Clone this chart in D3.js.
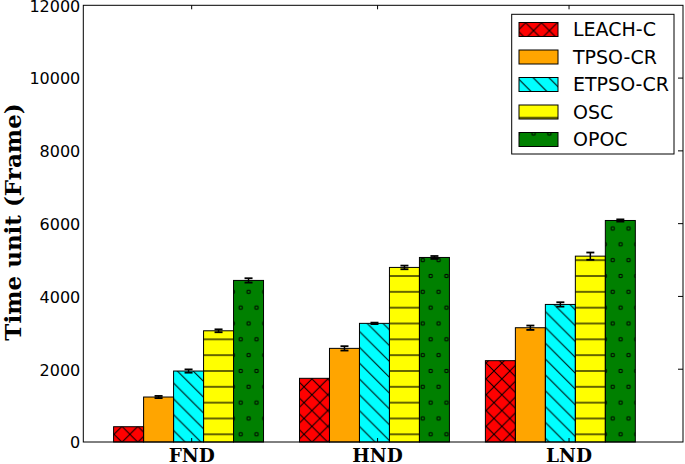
<!DOCTYPE html>
<html lang="en">
<head>
  <meta charset="UTF-8">
  <title>Time unit per round metric</title>
  <script src="https://d3js.org/d3.v7.min.js"></script>
  <style>
    body {
      margin: 0;
      background: #fff;
    }
    .tick-label {
      font-family: "DejaVu Sans", sans-serif;
      font-size: 16px;
      fill: #000;
    }
    .axis-title {
      font-family: "DejaVu Serif", serif;
      font-weight: bold;
      fill: #000;
    }
    .legend-label {
      font-family: "DejaVu Sans", sans-serif;
      font-size: 19px;
      fill: #000;
    }
  </style>
</head>
<body>
  <svg width="685" height="464"></svg>

  <script>
    const groups = ["FND", "HND", "LND"];
    const groupTicks = [0.42, 1.42, 2.45];
    const seriesNames = ["LEACH-C", "TPSO-CR", "ETPSO-CR", "OSC", "OPOC"];
    const colors = ["#ff0000", "#ffa500", "#00ffff", "#ffff00", "#008000"];
    const hatches = ["cross", "", "diag", "hline", "circle"];

    const leachC = [420, 1750, 2235];
    const tpsoCR = [1236, 2573, 3140];
    const etpsoCR = [1950, 3260, 3780];
    const osc = [3056, 4797, 5107];
    const opoc = [4440, 5071, 6087];

    const leachCErr = [0, 0, 0];
    const tpsoCRErr = [30, 60, 60];
    const etpsoCRErr = [45, 20, 60];
    const oscErr = [40, 50, 100];
    const opocErr = [60, 40, 30];

    const yTicks = [0, 2000, 4000, 6000, 8000, 10000, 12000];

    const values = [leachC, tpsoCR, etpsoCR, osc, opoc];
    const errors = [leachCErr, tpsoCRErr, etpsoCRErr, oscErr, opocErr];

    const plot = { left: 83.3, right: 683, top: 5.3, bottom: 442 };
    const barW = 0.1613;
    const T = 15.83; // hatch spacing

    const svg = d3.select("svg");

    const x = d3.scaleLinear()
      .domain([-0.163, 3.063])
      .range([plot.left, plot.right]);

    const y = d3.scaleLinear()
      .domain([0, 12000])
      .range([plot.bottom, plot.top]);

    // Hatch patterns
    const defs = svg.append("defs");

    const px = defs.append("pattern")
      .attr("id", "hatch-cross")
      .attr("patternUnits", "userSpaceOnUse")
      .attr("x", 3.25).attr("y", 6.9)
      .attr("width", T).attr("height", T);
    px.append("path")
      .attr("d", `M-1,-1L${T + 1},${T + 1}M-1,${T + 1}L${T + 1},-1`)
      .attr("stroke", "#000").attr("stroke-width", 1).attr("fill", "none");

    const pd = defs.append("pattern")
      .attr("id", "hatch-diag")
      .attr("patternUnits", "userSpaceOnUse")
      .attr("x", 3.25).attr("y", 6.9)
      .attr("width", T).attr("height", T);
    pd.append("path")
      .attr("d", `M-1,-1L${T + 1},${T + 1}M-2,${T - 2}L2,${T + 2}M${T - 2},-2L${T + 2},2`)
      .attr("stroke", "#000").attr("stroke-width", 1).attr("fill", "none");

    const ph = defs.append("pattern")
      .attr("id", "hatch-hline")
      .attr("patternUnits", "userSpaceOnUse")
      .attr("x", 0).attr("y", 6.9 - T / 2)
      .attr("width", T).attr("height", T);
    ph.append("line")
      .attr("x1", -1).attr("x2", T + 1)
      .attr("y1", T / 2).attr("y2", T / 2)
      .attr("stroke", "#000").attr("stroke-width", 1.2);

    const po = defs.append("pattern")
      .attr("id", "hatch-circle")
      .attr("patternUnits", "userSpaceOnUse")
      .attr("x", 3.25).attr("y", 22.7)
      .attr("width", T).attr("height", 2 * T);
    [[0, 0], [T, 0], [0, 2 * T], [T, 2 * T], [T / 2, T]].forEach(([cx, cy]) => {
      po.append("circle")
        .attr("cx", cx).attr("cy", cy).attr("r", 1.8)
        .attr("fill", "none").attr("stroke", "#000").attr("stroke-width", 1);
    });

    // Bars
    const barData = [];
    values.forEach((vals, s) => {
      vals.forEach((v, g) => {
        barData.push({ s, g, v, err: errors[s][g] });
      });
    });

    const bx = d => x(d.g + d.s * barW);
    const bw = d => x(d.g + (d.s + 1) * barW) - x(d.g + d.s * barW);

    const bars = svg.append("g");
    bars.selectAll(".bar")
      .data(barData)
      .join("rect")
      .attr("class", "bar")
      .attr("x", bx)
      .attr("y", d => y(d.v))
      .attr("width", bw)
      .attr("height", d => y(0) - y(d.v))
      .attr("fill", d => colors[d.s]);

    bars.selectAll(".hatch")
      .data(barData.filter(d => hatches[d.s]))
      .join("rect")
      .attr("class", "hatch")
      .attr("x", bx)
      .attr("y", d => y(d.v))
      .attr("width", bw)
      .attr("height", d => y(0) - y(d.v))
      .attr("fill", d => `url(#hatch-${hatches[d.s]})`);

    bars.selectAll(".edge")
      .data(barData)
      .join("rect")
      .attr("class", "edge")
      .attr("x", bx)
      .attr("y", d => y(d.v))
      .attr("width", bw)
      .attr("height", d => y(0) - y(d.v))
      .attr("fill", "none")
      .attr("stroke", "#000")
      .attr("stroke-width", 1);

    // Error bars
    const errG = svg.append("g");
    const withErr = barData.filter(d => d.err > 0);
    const cx = d => x(d.g + (d.s + 0.5) * barW);
    errG.selectAll(".err")
      .data(withErr)
      .join("line")
      .attr("x1", cx).attr("x2", cx)
      .attr("y1", d => y(d.v - d.err)).attr("y2", d => y(d.v + d.err))
      .attr("stroke", "#000").attr("stroke-width", 1.5);
    errG.selectAll(".capTop")
      .data(withErr)
      .join("line")
      .attr("x1", d => cx(d) - 4).attr("x2", d => cx(d) + 4)
      .attr("y1", d => y(d.v + d.err)).attr("y2", d => y(d.v + d.err))
      .attr("stroke", "#000").attr("stroke-width", 1.8);
    errG.selectAll(".capBot")
      .data(withErr)
      .join("line")
      .attr("x1", d => cx(d) - 4).attr("x2", d => cx(d) + 4)
      .attr("y1", d => y(d.v - d.err)).attr("y2", d => y(d.v - d.err))
      .attr("stroke", "#000").attr("stroke-width", 1.8);

    // Frame
    svg.append("rect")
      .attr("x", plot.left).attr("y", plot.top)
      .attr("width", plot.right - plot.left)
      .attr("height", plot.bottom - plot.top)
      .attr("fill", "none").attr("stroke", "#000").attr("stroke-width", 1);

    // Y ticks (labels left, marks on right side inward)
    const yAxisG = svg.append("g");
    yAxisG.selectAll(".ytl")
      .data(yTicks)
      .join("text")
      .attr("class", "tick-label")
      .attr("x", plot.left - 3)
      .attr("y", d => y(d))
      .attr("dy", "0.4em")
      .attr("text-anchor", "end")
      .text(d => d);
    yAxisG.selectAll(".ytr")
      .data(yTicks.slice(1, -1))
      .join("line")
      .attr("x1", plot.right).attr("x2", plot.right - 5)
      .attr("y1", d => y(d)).attr("y2", d => y(d))
      .attr("stroke", "#000").attr("stroke-width", 1);

    // X ticks
    const xAxisG = svg.append("g");
    xAxisG.selectAll(".xtb")
      .data(groupTicks)
      .join("line")
      .attr("x1", d => x(d)).attr("x2", d => x(d))
      .attr("y1", plot.bottom).attr("y2", plot.bottom - 4)
      .attr("stroke", "#000").attr("stroke-width", 1);
    xAxisG.selectAll(".xtt")
      .data(groupTicks)
      .join("line")
      .attr("x1", d => x(d)).attr("x2", d => x(d))
      .attr("y1", plot.top).attr("y2", plot.top + 4)
      .attr("stroke", "#000").attr("stroke-width", 1);
    xAxisG.selectAll(".xtl")
      .data(groups)
      .join("text")
      .attr("class", "axis-title")
      .attr("font-size", "18.5px")
      .attr("x", (d, i) => x(groupTicks[i]))
      .attr("y", 461.5)
      .attr("text-anchor", "middle")
      .text(d => d);

    // Y axis title
    svg.append("text")
      .attr("class", "axis-title")
      .attr("font-size", "23px")
      .attr("transform", "translate(20.5,222) rotate(-90)")
      .attr("text-anchor", "middle")
      .text("Time unit (Frame)");

    // Legend
    const legend = svg.append("g");
    legend.append("rect")
      .attr("x", 511.7).attr("y", 14.3)
      .attr("width", 162.3).attr("height", 139.7)
      .attr("fill", "#fff").attr("stroke", "#000").attr("stroke-width", 1);

    const entries = legend.selectAll(".entry")
      .data(seriesNames)
      .join("g")
      .attr("class", "entry");
    entries.append("rect")
      .attr("x", 519).attr("y", (d, i) => 22.5 + i * 27.5)
      .attr("width", 39).attr("height", 14)
      .attr("fill", (d, i) => colors[i]);
    entries.filter((d, i) => hatches[i])
      .append("rect")
      .attr("x", 519).attr("y", d => 22.5 + seriesNames.indexOf(d) * 27.5)
      .attr("width", 39).attr("height", 14)
      .attr("fill", d => `url(#hatch-${hatches[seriesNames.indexOf(d)]})`);
    entries.append("rect")
      .attr("x", 519).attr("y", (d, i) => 22.5 + i * 27.5)
      .attr("width", 39).attr("height", 14)
      .attr("fill", "none").attr("stroke", "#000").attr("stroke-width", 1);
    entries.append("text")
      .attr("class", "legend-label")
      .attr("x", 573)
      .attr("y", (d, i) => 29.5 + i * 27.5)
      .attr("dy", "0.36em")
      .text(d => d);
  </script>
</body>
</html>
